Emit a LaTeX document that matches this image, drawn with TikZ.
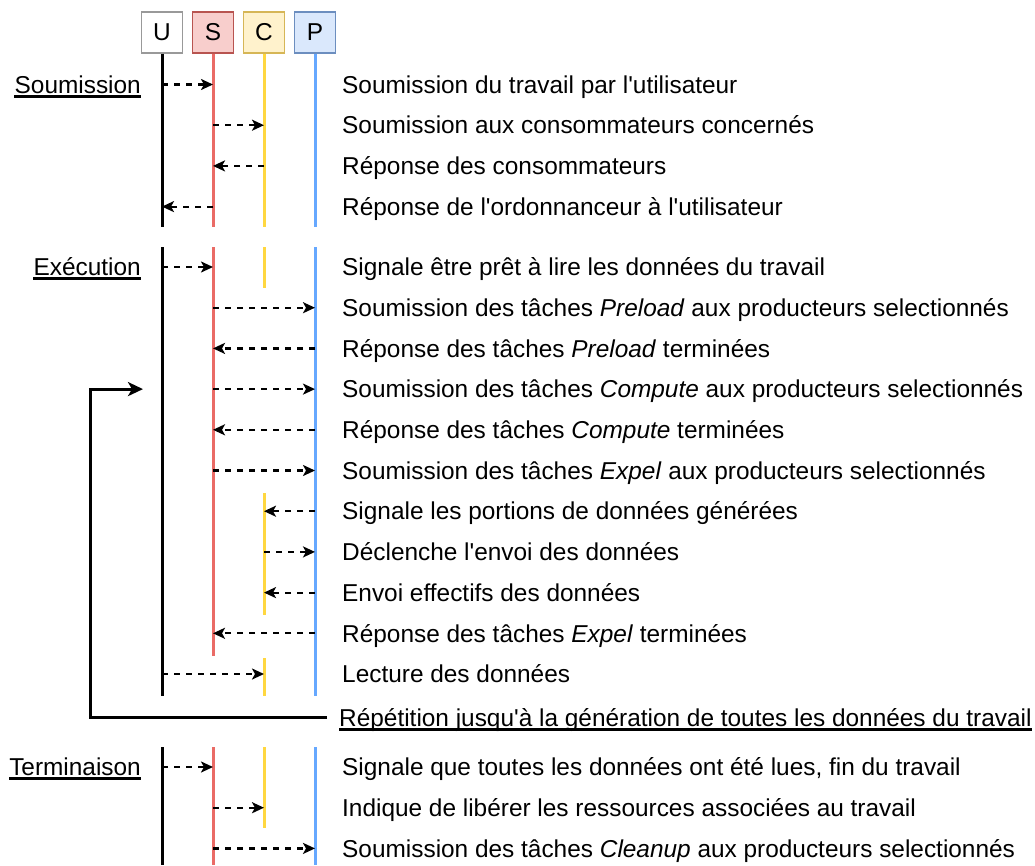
\documentclass[tikz,border=0pt]{standalone}
\usepackage{fontspec}
\usepackage{tikz}
\usetikzlibrary{arrows.meta}

\newfontfamily\arial{Liberation Sans}

\definecolor{sfill}{HTML}{F8CECC}
\definecolor{sdraw}{HTML}{B85450}
\definecolor{cfill}{HTML}{FFF2CC}
\definecolor{cdraw}{HTML}{D6B656}
\definecolor{pfill}{HTML}{DAE8FC}
\definecolor{pdraw}{HTML}{6C8EBF}
\definecolor{sline}{HTML}{EA6B66}
\definecolor{cline}{HTML}{FFD740}
\definecolor{pline}{HTML}{66A8FF}

\begin{document}
\begin{tikzpicture}[x=1pt,y=-1pt,font=\arial\fontsize{24.4}{28}\selectfont,
   actor/.style={draw,line width=1.3pt,minimum width=41pt,minimum height=41pt,inner sep=0pt},
   msg/.style={anchor=west,inner sep=0pt,text height=17.4pt,text depth=0pt},
   phase/.style={anchor=east,inner sep=0pt,text height=17.4pt,text depth=0pt}]

\tikzstyle {call} = [-{Stealth[length=12pt,width=11pt,inset=3pt]}, line width=2.2pt, dash pattern=on 6pt off 6pt];
\tikzstyle {life} = [line width=3pt];
\tikzstyle {uline} = [line width=2.6pt];
\tikzstyle {loopback} = [-{Stealth[length=15pt,width=14pt,inset=4pt]}, line width=3pt];

\useasboundingbox (0,0) rectangle (1035,865);

% actors
\node[actor,draw=gray!80] (U) at (162,32.5) {U};
\node[actor,fill=sfill,draw=sdraw] (S) at (213,32.5) {S};
\node[actor,fill=cfill,draw=cdraw] (C) at (264,32.5) {C};
\node[actor,fill=pfill,draw=pdraw] (P) at (315,32.5) {P};

% phase names
\node[phase] (ps) at (141,84.5){Soumission};
\node[phase] (pe) at (141,267){Exécution};
\node[phase] (pt) at (141,767){Terminaison};

\draw[uline] ([yshift=-3pt]ps.base west) -- ([yshift=-3pt]ps.base east);
\draw[uline] ([yshift=-3pt]pe.base west) -- ([yshift=-3pt]pe.base east);
\draw[uline] ([yshift=-3pt]pt.base west) -- ([yshift=-3pt]pt.base east);

% lifelines
\draw[life,black] (U.south) -- (U |- 0,227);
\draw[life,sline] (S.south) -- (S |- 0,227);
\draw[life,cline] (C.south) -- (C |- 0,227);
\draw[life,pline] (P.south) -- (P |- 0,227);

\draw[life,black] (U |- 0,247) -- (U |- 0,696);
\draw[life,sline] (S |- 0,247) -- (S |- 0,656);
\draw[life,cline] (C |- 0,247) -- (C |- 0,288);
\draw[life,cline] (C |- 0,493) -- (C |- 0,615);
\draw[life,cline] (C |- 0,658) -- (C |- 0,696);
\draw[life,pline] (P |- 0,247) -- (P |- 0,696);

\draw[life,black] (U |- 0,747) -- (U |- 0,865);
\draw[life,sline] (S |- 0,747) -- (S |- 0,865);
\draw[life,cline] (C |- 0,747) -- (C |- 0,828);
\draw[life,pline] (P |- 0,747) -- (P |- 0,865);

% soumission
\node[msg] (s1) at (342,84.5){Soumission du travail par l'utilisateur};
\node[msg] (s2) at (342,125.2){Soumission aux consommateurs concernés};
\node[msg] (s3) at (342,165.9){Réponse des consommateurs};
\node[msg] (s4) at (342,206.6){Réponse de l'ordonnanceur à l'utilisateur};

\path (U |- s1) edge [call] (S |- s1);
\path (S |- s2) edge [call] (C |- s2);
\path (C |- s3) edge [call] (S |- s3);
\path (S |- s4) edge [call] (U |- s4);

% execution
\node[msg] (e1) at (342,267){Signale être prêt à lire les données du travail};
\node[msg] (e2) at (342,307.7){Soumission des tâches \textit{Preload} aux producteurs selectionnés};
\node[msg] (e3) at (342,348.4){Réponse des tâches \textit{Preload} terminées};
\node[msg] (e4) at (342,389.1){Soumission des tâches \textit{Compute} aux producteurs selectionnés};
\node[msg] (e5) at (342,429.8){Réponse des tâches \textit{Compute} terminées};
\node[msg] (e6) at (342,470.5){Soumission des tâches \textit{Expel} aux producteurs selectionnés};
\node[msg] (e7) at (342,511.2){Signale les portions de données générées};
\node[msg] (e8) at (342,551.9){Déclenche l'envoi des données};
\node[msg] (e9) at (342,592.6){Envoi effectifs des données};
\node[msg] (e10) at (342,633.3){Réponse des tâches \textit{Expel} terminées};
\node[msg] (e11) at (342,674){Lecture des données};

\path (U |- e1) edge [call] (S |- e1);
\path (S |- e2) edge [call] (P |- e2);
\path (P |- e3) edge [call] (S |- e3);
\path (S |- e4) edge [call] (P |- e4);
\path (P |- e5) edge [call] (S |- e5);
\path (S |- e6) edge [call] (P |- e6);
\path (P |- e7) edge [call] (C |- e7);
\path (C |- e8) edge [call] (P |- e8);
\path (P |- e9) edge [call] (C |- e9);
\path (P |- e10) edge [call] (S |- e10);
\path (U |- e11) edge [call] (C |- e11);

% repetition
\node[msg] (rep) at (339,717.5){Répétition jusqu'à la génération de toutes les données du travail};
\draw[uline] ([yshift=-3pt]rep.base west) -- ([yshift=-3pt]rep.base east);
\coordinate (corner) at (90,717.5);
\coordinate (back) at (143,389.1);
\draw[loopback] ([xshift=-12pt]rep.west) -- (corner) |- (back);

% terminaison
\node[msg] (t1) at (342,767){Signale que toutes les données ont été lues, fin du travail};
\node[msg] (t2) at (342,807.7){Indique de libérer les ressources associées au travail};
\node[msg] (t3) at (342,848.4){Soumission des tâches \textit{Cleanup} aux producteurs selectionnés};

\path (U |- t1) edge [call] (S |- t1);
\path (S |- t2) edge [call] (C |- t2);
\path (S |- t3) edge [call] (P |- t3);

\end{tikzpicture}
\end{document}
